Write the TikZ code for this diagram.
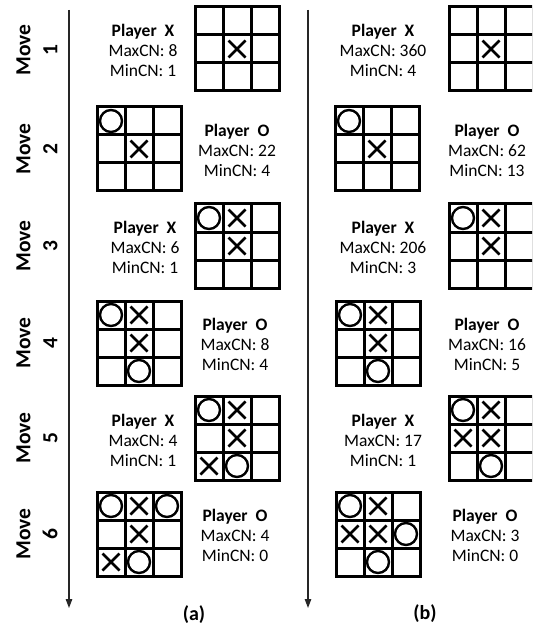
\documentclass[tikz,border=0pt]{standalone}
\usepackage{fontspec}
\setmainfont{Carlito}
\usetikzlibrary{arrows.meta}
\tikzset{
  cell/.style={draw=black, line width=3pt},
  info/.style={align=center, inner sep=0pt, font=\fontsize{17.5}{20}\selectfont},
  movelab/.style={align=center, inner sep=0pt, rotate=90, font=\fontsize{21.5}{27}\selectfont\bfseries},
  sublab/.style={inner sep=0pt, font=\fontsize{20}{24}\selectfont\bfseries},
  timeline/.style={draw=black!85, line width=1.2pt, -{Triangle[width=6.5pt,length=9pt]}},
  pics/markX/.style={code={\draw[line width=2.8pt] (-8.5,-8.5) -- (8.5,8.5) (-8.5,8.5) -- (8.5,-8.5);}},
  pics/markO/.style={code={\draw[line width=2.4pt] (0,0) circle[radius=11];}}
}
\newcommand{\tttboard}[3]{%
  \begin{scope}[shift={(#1,#2)}]
    \foreach \i in {0,1,2} {\foreach \j in {0,1,2} {\draw[cell] (28*\i,28*\j) rectangle +(28,28);}}
    \foreach \c/\r/\s in {#3} {\pic at (28*\c+14,28*\r+14) {mark\s};}
  \end{scope}}
\begin{document}
\begin{tikzpicture}[x=1pt,y=-1pt]
\useasboundingbox (0,0) rectangle (532,628);
\clip (0,0) rectangle (532,628);
\fill[white] (0,0) rectangle (532,628);
% timelines
\coordinate (aS) at (69,10);
\coordinate (aE) at (69,608);
\coordinate (bS) at (308,10);
\coordinate (bE) at (308,608);
\draw[timeline] (aS) -- (aE);
\draw[timeline] (bS) -- (bE);
% move labels
\node[movelab] (m1) at (37,50) {Move\\1};
\node[movelab] (m2) at (37,149) {Move\\2};
\node[movelab] (m3) at (37,246) {Move\\3};
\node[movelab] (m4) at (37,343) {Move\\4};
\node[movelab] (m5) at (37,438) {Move\\5};
\node[movelab] (m6) at (37,534) {Move\\6};
% (a) boards
\tttboard{195}{7}{1/1/X}
\tttboard{97}{107}{0/0/O,1/1/X}
\tttboard{195}{204}{0/0/O,1/0/X,1/1/X}
\tttboard{97}{301}{0/0/O,1/0/X,1/1/X,1/2/O}
\tttboard{195}{396}{0/0/O,1/0/X,1/1/X,0/2/X,1/2/O}
\tttboard{97}{492}{0/0/O,1/0/X,2/0/O,1/1/X,0/2/X,1/2/O}
% (b) boards
\tttboard{449}{7}{1/1/X}
\tttboard{335}{107}{0/0/O,1/1/X}
\tttboard{449}{204}{0/0/O,1/0/X,1/1/X}
\tttboard{336}{301}{0/0/O,1/0/X,1/1/X,1/2/O}
\tttboard{449}{396}{0/0/O,1/0/X,0/1/X,1/1/X,1/2/O}
\tttboard{336}{492}{0/0/O,1/0/X,0/1/X,1/1/X,2/1/O,1/2/O}
% (a) info
\node[info] (a1) at (143,50) {\textbf{Player\ \ X}\\MaxCN: 8\\MinCN: 1};
\node[info] (a2) at (237,150) {\textbf{Player\ \ O}\\MaxCN: 22\\MinCN: 4};
\node[info] (a3) at (145,247) {\textbf{Player\ \ X}\\MaxCN: 6\\MinCN: 1};
\node[info] (a4) at (235,344) {\textbf{Player\ \ O}\\MaxCN: 8\\MinCN: 4};
\node[info] (a5) at (143,440) {\textbf{Player\ \ X}\\MaxCN: 4\\MinCN: 1};
\node[info] (a6) at (235,535) {\textbf{Player\ \ O}\\MaxCN: 4\\MinCN: 0};
% (b) info
\node[info] (b1) at (383,50) {\textbf{Player\ \ X}\\MaxCN: 360\\MinCN: 4};
\node[info] (b2) at (487,150) {\textbf{Player\ \ O}\\MaxCN: 62\\MinCN: 13};
\node[info] (b3) at (383,247) {\textbf{Player\ \ X}\\MaxCN: 206\\MinCN: 3};
\node[info] (b4) at (487,344) {\textbf{Player\ \ O}\\MaxCN: 16\\MinCN: 5};
\node[info] (b5) at (383,440) {\textbf{Player\ \ X}\\MaxCN: 17\\MinCN: 1};
\node[info] (b6) at (485,535) {\textbf{Player\ \ O}\\MaxCN: 3\\MinCN: 0};
% sub labels
\node[sublab] (la) at (194,615) {(a)};
\node[sublab] (lb) at (425,614) {(b)};
\end{tikzpicture}
\end{document}
